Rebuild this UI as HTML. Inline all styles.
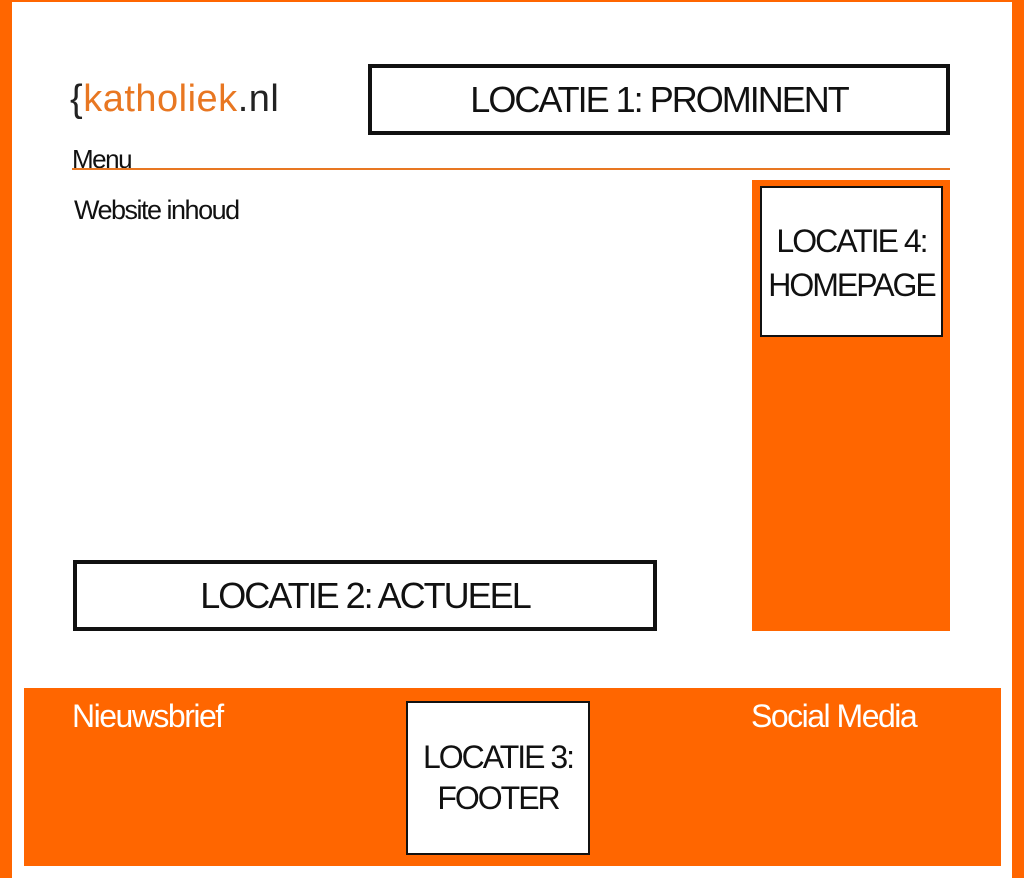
<!DOCTYPE html>
<html><head><style>
body{margin:0;width:1024px;height:878px;position:relative;background:#fff;font-family:"Liberation Sans Narrow","Liberation Sans",sans-serif;overflow:hidden;color:#111}
div{position:absolute;box-sizing:border-box}
.t{letter-spacing:-1.5px;white-space:nowrap}
.box{background:#fff;border:4px solid #111;display:flex;align-items:center;justify-content:center;text-align:center;font-size:36px;letter-spacing:-2px;line-height:1.15}
.o{background:#ff6600}
</style></head><body>
<div class="o" style="left:0;top:0;width:12px;height:878px"></div>
<div class="o" style="left:1012px;top:0;width:12px;height:878px"></div>
<div class="o" style="left:0;top:0;width:1024px;height:2px"></div>
<div class="t" style="left:70px;top:78px;font-family:'Liberation Sans',sans-serif;font-size:38px;letter-spacing:0.5px"><span style="color:#222">{</span><span style="color:#e87722">katholiek</span><span style="color:#222">.nl</span></div>
<div class="box" style="left:368px;top:64px;width:582px;height:71px">LOCATIE 1: PROMINENT</div>
<div class="t" style="left:72px;top:144px;font-size:26px">Menu</div>
<div style="left:72px;top:168px;width:878px;height:2px;background:#e87722"></div>
<div class="t" style="left:74px;top:195px;font-size:27px">Website inhoud</div>
<div class="o" style="left:752px;top:180px;width:198px;height:451px"></div>
<div class="box" style="left:760px;top:186px;width:183px;height:151px;border-width:2px;font-size:32px;line-height:44px;padding-top:2px">LOCATIE 4:<br>HOMEPAGE</div>
<div class="box" style="left:73px;top:560px;width:584px;height:71px">LOCATIE 2: ACTUEEL</div>
<div class="o" style="left:24px;top:688px;width:977px;height:178px"></div>
<div class="t" style="left:72px;top:698px;font-size:32px;color:#fff">Nieuwsbrief</div>
<div class="t" style="left:751px;top:698px;font-size:32px;color:#fff">Social Media</div>
<div class="box" style="left:406px;top:701px;width:184px;height:154px;border-width:2px;font-size:32px;line-height:41px">LOCATIE 3:<br>FOOTER</div>
</body></html>
